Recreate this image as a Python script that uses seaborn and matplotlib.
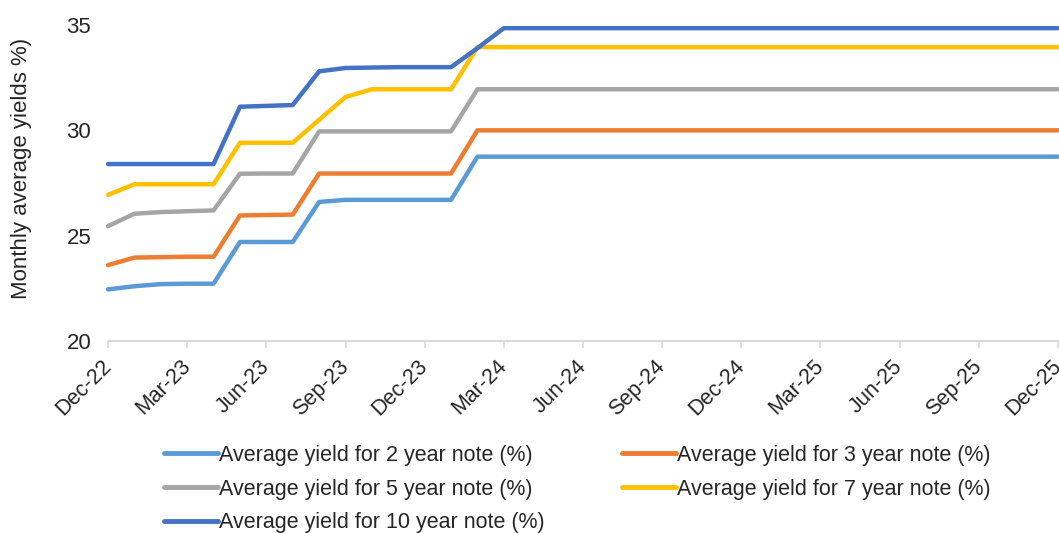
import numpy as np
import pandas as pd
import matplotlib
matplotlib.use("Agg")
import matplotlib.pyplot as plt
import seaborn as sns

# ---------------- data ----------------
months = pd.date_range("2022-12-01", "2025-12-01", freq="MS").strftime("%b-%y").tolist()

y2 = [22.45, 22.6, 22.7, 22.72, 22.72, 24.7, 24.7, 24.7, 26.6, 26.7, 26.7, 26.7, 26.7, 26.7,
      28.75, 28.75, 28.75, 28.75, 28.75, 28.75, 28.75, 28.75, 28.75, 28.75, 28.75, 28.75,
      28.75, 28.75, 28.75, 28.75, 28.75, 28.75, 28.75, 28.75, 28.75, 28.75, 28.75]
y3 = [23.6, 23.96, 23.98, 24.0, 24.0, 25.96, 25.98, 26.0, 27.95, 27.95, 27.95, 27.95, 27.95, 27.95,
      30.0, 30.0, 30.0, 30.0, 30.0, 30.0, 30.0, 30.0, 30.0, 30.0, 30.0, 30.0,
      30.0, 30.0, 30.0, 30.0, 30.0, 30.0, 30.0, 30.0, 30.0, 30.0, 30.0]
y5 = [25.45, 26.04, 26.12, 26.16, 26.2, 27.94, 27.95, 27.95, 29.95, 29.95, 29.95, 29.95, 29.95, 29.95,
      31.95, 31.95, 31.95, 31.95, 31.95, 31.95, 31.95, 31.95, 31.95, 31.95, 31.95, 31.95,
      31.95, 31.95, 31.95, 31.95, 31.95, 31.95, 31.95, 31.95, 31.95, 31.95, 31.95]
y7 = [26.94, 27.44, 27.44, 27.44, 27.44, 29.41, 29.41, 29.41, 30.5, 31.58, 31.95, 31.95, 31.95, 31.95,
      33.95, 33.95, 33.95, 33.95, 33.95, 33.95, 33.95, 33.95, 33.95, 33.95, 33.95, 33.95,
      33.95, 33.95, 33.95, 33.95, 33.95, 33.95, 33.95, 33.95, 33.95, 33.95, 33.95]
y10 = [28.4, 28.4, 28.4, 28.4, 28.4, 31.12, 31.16, 31.2, 32.8, 32.96, 32.98, 33.0, 33.0, 33.0,
       33.9, 34.85, 34.85, 34.85, 34.85, 34.85, 34.85, 34.85, 34.85, 34.85, 34.85, 34.85,
       34.85, 34.85, 34.85, 34.85, 34.85, 34.85, 34.85, 34.85, 34.85, 34.85, 34.85]

series_names = [
    "Average yield for 2 year note (%)",
    "Average yield for 3 year note (%)",
    "Average yield for 5 year note (%)",
    "Average yield for 7 year note (%)",
    "Average yield for 10 year note (%)",
]
series_values = [y2, y3, y5, y7, y10]
colors = ["#5B9BD5", "#ED7D31", "#A5A5A5", "#FFC000", "#4472C4"]
y_ticks = [20, 25, 30, 35]
y_label = "Monthly average yields %)"

# ---------------- frame ----------------
rows = []
for name, vals in zip(series_names, series_values):
    for i, (m, v) in enumerate(zip(months, vals)):
        rows.append({"idx": i, "month": m, "series": name, "value": v})
df = pd.DataFrame(rows)

sns.set_theme(style="white")
plt.rcParams["font.family"] = ["Liberation Sans", "DejaVu Sans"]

TXT = "#262626"

fig = plt.figure(figsize=(10.59, 5.33), dpi=100)
ax = fig.add_axes([108 / 1059, 1 - 341 / 533, (1058 - 108) / 1059, (341 - 25) / 533])

sns.lineplot(data=df, x="idx", y="value", hue="series", hue_order=series_names,
             palette=dict(zip(series_names, colors)), linewidth=3.2, ax=ax,
             legend=True)

ax.set_xlim(0, len(months) - 1)
ax.set_ylim(20, 35)
ax.set_yticks(y_ticks)
ax.set_yticklabels([str(t) for t in y_ticks])
tick_pos = list(range(0, len(months), 3))
ax.set_xticks(tick_pos)
ax.set_xticklabels([months[i] for i in tick_pos], rotation=45, ha="right",
                   va="center", rotation_mode="anchor")
ax.set_xlabel("")
ax.set_ylabel(y_label, fontsize=16, color=TXT)
ax.yaxis.set_label_coords(-0.080, 0.547)

for s in ["top", "right", "left"]:
    ax.spines[s].set_visible(False)
ax.spines["bottom"].set_color("#D9D9D9")
ax.spines["bottom"].set_linewidth(1.5)
ax.tick_params(axis="x", length=5, width=1.2, color="#D9D9D9", labelsize=15.5,
               labelcolor=TXT, pad=11, bottom=True, direction="out")
ax.tick_params(axis="y", length=0, labelsize=16, labelcolor=TXT, pad=12)
ax.grid(False)
for line in ax.get_lines():
    line.set_clip_on(False)

handles, labels = ax.get_legend_handles_labels()
ax.get_legend().remove()
order = [0, 2, 4, 1, 3]
fig.legend([handles[i] for i in order], [labels[i] for i in order],
           loc="center", bbox_to_anchor=(577.5 / 1059, 1 - 489 / 533),
           ncol=2, frameon=False, fontsize=15.5, handlelength=2.5,
           handletextpad=0.05, columnspacing=3.6, labelspacing=0.6,
           labelcolor=TXT)
for lh in fig.legends[0].get_lines():
    lh.set_linewidth(3.5)

fig.savefig("out.png", dpi=100)
